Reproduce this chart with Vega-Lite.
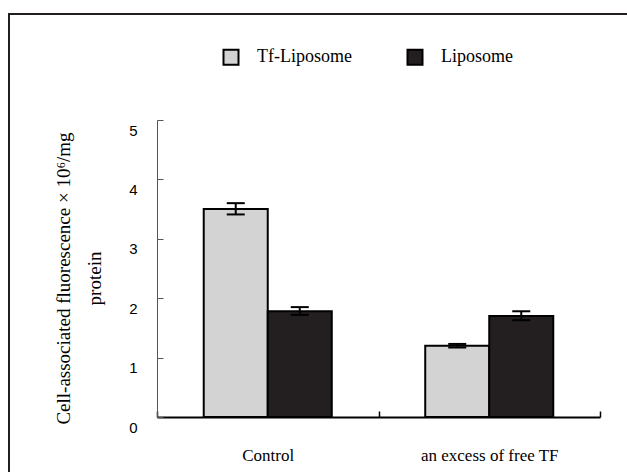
{
  "$schema": "https://vega.github.io/schema/vega-lite/v6.json",
  "width": 630,
  "height": 470,
  "padding": {"left": 9, "top": 14, "right": 0, "bottom": 0},
  "autosize": {"type": "pad"},
  "background": "white",
  "config": {"view": {"stroke": "#231f20", "strokeWidth": 2}},
  "data": {
    "values": [
      {"group": "Control", "series": "Tf-Liposome", "value": 3.5, "lo": 3.41, "hi": 3.6},
      {"group": "Control", "series": "Liposome", "value": 1.78, "lo": 1.72, "hi": 1.85},
      {"group": "an excess of free TF", "series": "Tf-Liposome", "value": 1.2, "lo": 1.17, "hi": 1.23},
      {"group": "an excess of free TF", "series": "Liposome", "value": 1.7, "lo": 1.63, "hi": 1.78}
    ]
  },
  "encoding": {
    "x": {
      "field": "group",
      "type": "nominal",
      "sort": ["Control", "an excess of free TF"],
      "scale": {"range": [148, 591], "paddingInner": 0, "paddingOuter": 0},
      "axis": {
        "orient": "bottom",
        "offset": -67,
        "tickBand": "extent",
        "tickSize": -6,
        "labelPadding": 36,
        "labelAngle": 0,
        "labelFont": "Liberation Serif",
        "labelFontSize": 17,
        "labelColor": "black",
        "title": null,
        "domainColor": "black",
        "domainWidth": 2,
        "tickColor": "black",
        "tickWidth": 1.5
      }
    },
    "xOffset": {
      "field": "series",
      "sort": ["Tf-Liposome", "Liposome"],
      "scale": {"paddingInner": 0, "paddingOuter": 0.73}
    }
  },
  "layer": [
    {
      "mark": {"type": "bar", "stroke": "black", "strokeWidth": 2},
      "encoding": {
        "y": {
          "field": "value",
          "type": "quantitative",
          "scale": {"domain": [0, 5], "range": [403, 106]},
          "axis": {
            "orient": "left",
            "offset": -148,
            "values": [0, 1, 2, 3, 4, 5],
            "format": "d",
            "tickSize": -6,
            "labelPadding": 26,
            "labelOffset": 10,
            "labelFont": "Liberation Sans",
            "labelFontSize": 15,
            "labelColor": "black",
            "grid": false,
            "domainColor": "#555555",
            "tickColor": "#555555",
            "title": ["Cell-associated fluorescence × 10⁶/mg", "protein"],
            "titleFont": "Liberation Serif",
            "titleFontSize": 19,
            "titleFontWeight": "normal",
            "titleColor": "black",
            "titleLineHeight": 31,
            "titlePadding": 24,
            "titleY": 264
          }
        },
        "fill": {
          "field": "series",
          "type": "nominal",
          "scale": {"domain": ["Tf-Liposome", "Liposome"], "range": ["#d3d3d3", "#231f20"]},
          "legend": {
            "orient": "none",
            "direction": "horizontal",
            "legendX": 213,
            "legendY": 34,
            "title": null,
            "symbolType": "square",
            "symbolSize": 225,
            "symbolStrokeColor": "black",
            "symbolStrokeWidth": 2,
            "symbolOpacity": 1,
            "labelFont": "Liberation Serif",
            "labelFontSize": 18,
            "labelColor": "black",
            "labelOffset": 17,
            "columnPadding": 51
          }
        }
      }
    },
    {
      "mark": {"type": "rule", "stroke": "black", "strokeWidth": 2},
      "encoding": {
        "y": {"field": "lo", "type": "quantitative"},
        "y2": {"field": "hi"}
      }
    },
    {
      "mark": {"type": "tick", "color": "black", "size": 18, "thickness": 2, "opacity": 1},
      "encoding": {"y": {"field": "lo", "type": "quantitative"}}
    },
    {
      "mark": {"type": "tick", "color": "black", "size": 18, "thickness": 2, "opacity": 1},
      "encoding": {"y": {"field": "hi", "type": "quantitative"}}
    }
  ]
}
